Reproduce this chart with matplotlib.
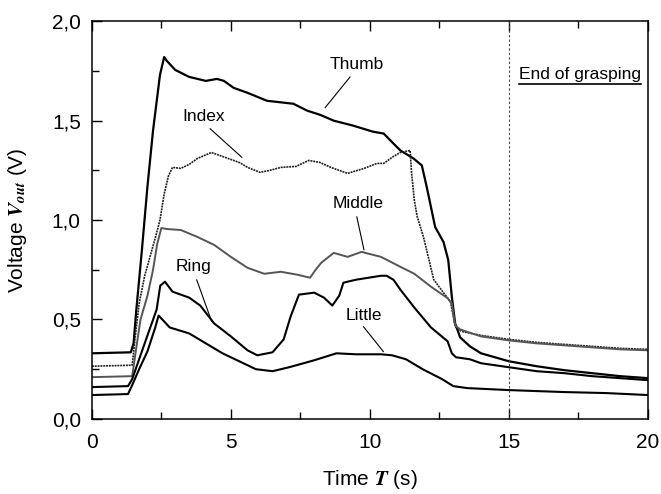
import numpy as np
import matplotlib
matplotlib.use('Agg')
import matplotlib.pyplot as plt
from matplotlib.ticker import MultipleLocator, FuncFormatter

plt.rcParams['font.family'] = ['Liberation Sans', 'DejaVu Sans']
plt.rcParams['mathtext.fontset'] = 'stix'

# finger sensor readings
thumb_t = [0, 1.4, 1.5, 1.6, 1.8, 2.0, 2.2, 2.45, 2.6, 2.7, 3.0, 3.5, 4.1, 4.5, 4.75,
           5.1, 5.6, 6.3, 7.25, 7.75, 8.2, 8.7, 9.4, 10.1, 10.5, 10.85, 11.1, 11.57,
           11.87, 12.05, 12.35, 12.65, 12.82, 12.95, 13.07, 13.25, 13.6, 14.0, 15,
           16, 17, 18, 19, 20]
thumb_v = [0.33, 0.335, 0.38, 0.55, 0.85, 1.17, 1.45, 1.73, 1.82, 1.80, 1.755, 1.72,
           1.70, 1.71, 1.70, 1.665, 1.64, 1.60, 1.585, 1.55, 1.53, 1.50, 1.475, 1.445,
           1.435, 1.385, 1.35, 1.31, 1.275, 1.165, 0.965, 0.89, 0.80, 0.615, 0.48,
           0.41, 0.365, 0.33, 0.29, 0.265, 0.245, 0.23, 0.215, 0.205]

index_t = [0, 1.45, 1.55, 1.7, 1.9, 2.1, 2.3, 2.45, 2.6, 2.75, 2.9, 3.2, 3.5, 3.8,
           4.3, 4.7, 5.3, 5.6, 6.05, 6.4, 6.8, 7.35, 7.8, 8.2, 8.6, 9.2, 9.8, 10.25,
           10.5, 10.85, 11.1, 11.45, 11.5, 11.6, 11.7, 11.93, 12.3, 12.65, 12.9,
           13.07, 13.3, 14, 15, 16, 17, 18, 19, 20]
index_v = [0.265, 0.27, 0.40, 0.58, 0.72, 0.82, 0.92, 1.0, 1.13, 1.22, 1.265, 1.26,
           1.28, 1.31, 1.34, 1.32, 1.29, 1.265, 1.24, 1.25, 1.265, 1.27, 1.30, 1.29,
           1.265, 1.235, 1.26, 1.285, 1.285, 1.32, 1.34, 1.35, 1.24, 1.10, 1.02,
           0.915, 0.70, 0.635, 0.59, 0.465, 0.44, 0.42, 0.40, 0.385, 0.375, 0.365,
           0.355, 0.35]

middle_t = [0, 1.45, 1.6, 1.75, 2.0, 2.2, 2.35, 2.5, 2.7, 3.2, 3.8, 4.4, 5.0, 5.6,
            6.2, 6.8, 7.4, 7.85, 8.05, 8.25, 8.7, 9.2, 9.7, 10.4, 11.1, 11.6, 12.2,
            12.8, 12.95, 13.07, 13.25, 14, 15, 16, 17, 18, 19, 20]
middle_v = [0.21, 0.215, 0.36, 0.5, 0.62, 0.75, 0.88, 0.96, 0.955, 0.95, 0.915,
            0.875, 0.815, 0.76, 0.73, 0.74, 0.725, 0.71, 0.75, 0.785, 0.835, 0.815,
            0.84, 0.815, 0.765, 0.73, 0.665, 0.607, 0.58, 0.47, 0.45, 0.415, 0.395,
            0.38, 0.37, 0.36, 0.35, 0.345]

ring_t = [0, 1.3, 1.45, 1.7, 2.0, 2.33, 2.46, 2.63, 2.9, 3.5, 3.9, 4.4, 5.0, 5.6,
          5.95, 6.5, 6.9, 7.15, 7.45, 8.0, 8.35, 8.65, 8.9, 9.05, 9.5, 10.4, 10.6,
          10.85, 11.1, 11.6, 12.2, 12.8, 12.95, 13.1, 13.6, 14, 15, 16, 17, 18, 19, 20]
ring_v = [0.16, 0.165, 0.2, 0.3, 0.42, 0.55, 0.67, 0.69, 0.64, 0.61, 0.57, 0.48,
          0.415, 0.345, 0.32, 0.335, 0.40, 0.515, 0.625, 0.635, 0.61, 0.57, 0.62,
          0.685, 0.70, 0.72, 0.72, 0.70, 0.65, 0.56, 0.46, 0.39, 0.33, 0.31, 0.30,
          0.28, 0.26, 0.24, 0.23, 0.215, 0.205, 0.195]

little_t = [0, 1.3, 1.45, 1.7, 2.0, 2.28, 2.4, 2.6, 2.8, 3.5, 4.1, 4.7, 5.3, 5.9,
            6.5, 7.1, 8.0, 8.8, 9.5, 10.4, 10.8, 11.3, 11.9, 12.6, 13.0, 13.5, 15,
            17, 18.5, 20]
little_v = [0.12, 0.125, 0.17, 0.25, 0.34, 0.46, 0.52, 0.49, 0.46, 0.43, 0.38, 0.33,
            0.29, 0.25, 0.24, 0.26, 0.295, 0.33, 0.325, 0.325, 0.32, 0.30, 0.25,
            0.20, 0.165, 0.155, 0.145, 0.135, 0.13, 0.12]

grasp_end = 15

fig = plt.figure(figsize=(6.61, 4.94), dpi=100)
ax = fig.add_axes([0.139, 0.152, 0.841, 0.805])

ax.plot(thumb_t, thumb_v, color='black', lw=1.6)
ax.plot(index_t, index_v, color='#222222', lw=1.2, linestyle=(0, (1.2, 0.5)))
ax.plot(middle_t, middle_v, color='#555555', lw=1.4)
ax.plot(ring_t, ring_v, color='black', lw=1.5)
ax.plot(little_t, little_v, color='black', lw=1.5)

ax.axvline(grasp_end, color='#444444', lw=0.8, linestyle=(0, (2, 2)))

# labels with leader lines
labels = [('Thumb', (9.54, 1.78), (9.29, 1.72), (8.39, 1.565)),
          ('Index', (4.03, 1.52), (4.25, 1.46), (5.4, 1.315)),
          ('Middle', (9.58, 1.085), (9.53, 1.017), (9.79, 0.85)),
          ('Ring', (3.65, 0.765), (3.77, 0.70), (4.31, 0.49)),
          ('Little', (9.8, 0.52), (9.77, 0.464), (10.49, 0.338))]
for name, pos, start, end in labels:
    ax.text(pos[0], pos[1], name, fontsize=12.5, ha='center', va='center')
    ax.annotate('', xy=end, xytext=start,
                arrowprops=dict(arrowstyle='-', lw=0.8, color='black',
                                shrinkA=0, shrinkB=0))

txt = ax.text(17.56, 1.73, 'End of grasping', fontsize=12.5, ha='center', va='center')

ax.set_xlim(0, 20)
ax.set_ylim(0, 2.0)
ax.xaxis.set_major_locator(MultipleLocator(5))
ax.xaxis.set_minor_locator(MultipleLocator(2.5))
ax.yaxis.set_major_locator(MultipleLocator(0.5))
ax.yaxis.set_minor_locator(MultipleLocator(0.25))
ax.yaxis.set_major_formatter(FuncFormatter(lambda v, p: '{:.1f}'.format(v).replace('.', ',')))
ax.tick_params(which='both', direction='in', top=True, right=False, labelsize=15,
               width=1.0)
ax.tick_params(axis='x', pad=10)
ax.tick_params(axis='y', pad=8)
ax.tick_params(which='major', length=7)
ax.tick_params(which='minor', length=5)
for sp in ax.spines.values():
    sp.set_linewidth(1.1)

ax.set_xlabel(r'Time $\mathbfit{T}$ (s)', fontsize=15, labelpad=12)
ax.set_ylabel(r'Voltage $\mathbfit{V}_{\mathbfit{out}}$ (V)', fontsize=15, labelpad=16)

# underline the "End of grasping" note
fig.canvas.draw()
bb = txt.get_window_extent().transformed(ax.transData.inverted())
ax.plot([bb.x0, bb.x1], [bb.y0 - 0.01, bb.y0 - 0.01], color='black', lw=1.2)

fig.savefig('out.png', dpi=100)
